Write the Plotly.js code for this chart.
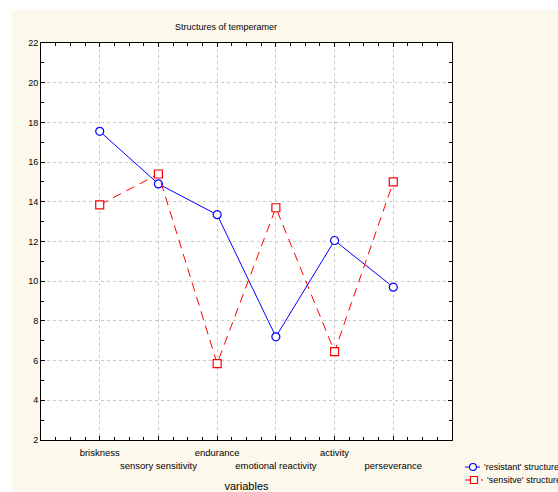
<!DOCTYPE html>
<html>
<head>
<meta charset="utf-8">
<script src="https://cdn.plot.ly/plotly-3.0.1.min.js"></script>
<style>
  html, body { margin: 0; padding: 0; background: #ffffff; overflow: hidden; }
  #chart { position: absolute; left: 12px; top: 10px; width: 546px; height: 482px; }
</style>
</head>
<body>
<div id="chart"></div>
<script>
const categories = ["briskness", "sensory sensitivity", "endurance", "emotional reactivity", "activity", "perseverance"];
const resistant = [17.55, 14.9, 13.35, 7.2, 12.05, 9.7];
const sensitive = [13.85, 15.4, 5.85, 13.7, 6.45, 15.0];
const seriesNames = ["'resistant' structure", "'sensitve' structure"];
const yTicks = [2, 4, 6, 8, 10, 12, 14, 16, 18, 20, 22];

const xPos = categories.map((c, i) => i + 1);
const tickText = categories.map((c, i) => (i % 2 === 1 ? "<br>" + c : c));

const font = "Liberation Sans, Arial, sans-serif";
const blue = "#0000ff";
const red = "#ff0000";

const traces = [
  {
    x: xPos, y: resistant, name: seriesNames[0], type: "scatter", mode: "lines+markers",
    line: { color: blue, width: 1 },
    marker: { symbol: "circle", size: 8, color: "#ffffff", line: { color: blue, width: 1.2 } }
  },
  {
    x: xPos, y: sensitive, name: seriesNames[1], type: "scatter", mode: "lines+markers",
    line: { color: red, width: 1, dash: "9px,6px" },
    marker: { symbol: "square", size: 8, color: "#ffffff", line: { color: red, width: 1.2 } }
  }
];

// custom legend (placed in paper coords, sized in pixels)
const plotW = 411, plotH = 397;
const legX = (453 - 29) / plotW;
const row1 = -27 / plotH;
const row2 = -40 / plotH;

const shapes = [
  { type: "line", xref: "paper", yref: "paper", xsizemode: "pixel", ysizemode: "pixel",
    xanchor: legX, yanchor: row1, x0: 0, x1: 15, y0: 0, y1: 0, line: { color: blue, width: 1 } },
  { type: "circle", xref: "paper", yref: "paper", xsizemode: "pixel", ysizemode: "pixel",
    xanchor: legX, yanchor: row1, x0: 4.5, x1: 11.5, y0: -3.5, y1: 3.5,
    fillcolor: "#ffffff", line: { color: blue, width: 1.2 } },
  { type: "line", xref: "paper", yref: "paper", xsizemode: "pixel", ysizemode: "pixel",
    xanchor: legX, yanchor: row2, x0: 0, x1: 18, y0: 0, y1: 0, line: { color: red, width: 1, dash: "5px,3px" } },
  { type: "rect", xref: "paper", yref: "paper", xsizemode: "pixel", ysizemode: "pixel",
    xanchor: legX, yanchor: row2, x0: 5.5, x1: 12.5, y0: -3.5, y1: 3.5,
    fillcolor: "#ffffff", line: { color: red, width: 1.2 } }
];

const annotations = [
  { text: seriesNames[0], xref: "paper", yref: "paper", x: legX + 17 / plotW, y: row1,
    xanchor: "left", yanchor: "middle", showarrow: false, font: { family: font, size: 9, color: "#000" } },
  { text: seriesNames[1], xref: "paper", yref: "paper", x: legX + 20 / plotW, y: row2,
    xanchor: "left", yanchor: "middle", showarrow: false, font: { family: font, size: 9, color: "#000" } }
];

const layout = {
  width: 546, height: 482,
  margin: { l: 29, r: 106, t: 33, b: 52, autoexpand: false },
  paper_bgcolor: "#fdf8ec",
  plot_bgcolor: "#ffffff",
  font: { family: font, size: 9, color: "#000000" },
  title: {
    text: "Structures of temperamer",
    font: { family: font, size: 9, color: "#000000" },
    x: 0.45, xref: "paper", xanchor: "center",
    y: 1 - 17 / 482, yref: "container", yanchor: "middle"
  },
  xaxis: {
    range: [0, 7], automargin: false,
    tickmode: "array", tickvals: xPos, ticktext: tickText, tickangle: 0,
    ticks: "inside", ticklen: 4, tickcolor: "#000000", ticklabelstandoff: 4,
    showline: true, linecolor: "#000000", linewidth: 1, mirror: "ticks",
    showgrid: true, gridcolor: "#c8c8c8", griddash: "3px,3px", gridwidth: 1,
    zeroline: false,
    tickfont: { family: font, size: 9.5 },
    minor: { dtick: 0.25, tick0: 0, ticks: "inside", ticklen: 3, tickcolor: "#000000", showgrid: false },
    title: { text: "variables", font: { family: font, size: 11 }, standoff: 13 }
  },
  yaxis: {
    range: [2, 22], automargin: false,
    tickmode: "array", tickvals: yTicks,
    ticks: "inside", ticklen: 4, tickcolor: "#000000",
    showline: true, linecolor: "#000000", linewidth: 1, mirror: "ticks",
    showgrid: true, gridcolor: "#c8c8c8", griddash: "3px,3px", gridwidth: 1,
    zeroline: false,
    tickfont: { family: font, size: 9 },
    minor: { dtick: 1, tick0: 2, ticks: "inside", ticklen: 3, tickcolor: "#000000", showgrid: false }
  },
  showlegend: false,
  shapes: shapes,
  annotations: annotations
};

Plotly.newPlot("chart", traces, layout, { displayModeBar: false, staticPlot: true });
</script>
</body>
</html>
